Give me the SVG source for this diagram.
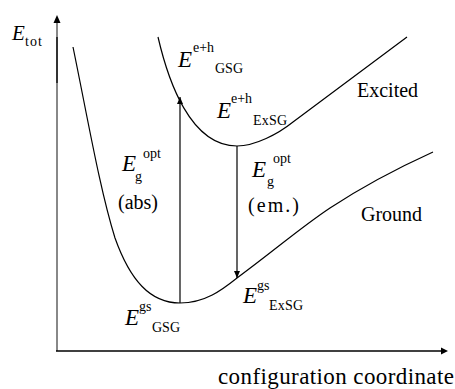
<svg xmlns="http://www.w3.org/2000/svg" width="455" height="389" viewBox="0 0 455 389">
<defs>
<marker id="ah" markerWidth="8" markerHeight="8" refX="7" refY="4" orient="auto" markerUnits="userSpaceOnUse">
<path d="M0,1 L7,4 L0,7 Z" fill="#000"/>
</marker>
</defs>
<g id="axes">
<line x1="57" y1="351" x2="57" y2="22" stroke="#888" stroke-width="2"/>
<line x1="57" y1="37" x2="57" y2="83" stroke="#333" stroke-width="2"/>
<path d="M53.5,23 L57,15 L60.5,23 Z" fill="#000"/>
<line x1="56" y1="351" x2="442" y2="351" stroke="#000" stroke-width="1.5"/>
<path d="M441,347.5 L448,351 L441,354.5 Z" fill="#000"/>
<text font-family="Times New Roman" font-style="italic" font-size="21" x="12" y="40">E</text>
<text font-family="Times New Roman" font-size="14" x="25" y="46" textLength="17">tot</text>
<text font-family="Times New Roman" font-size="23" x="218" y="384" textLength="236">configuration coordinate</text>
</g>
<g id="ground">
<path fill="none" stroke="#000" stroke-width="1.2" d="M73,47 C88,120 100,190 115,238 C130,280 150,303 180,303 C205,303 222,290 237,278 C275,250 300,228 330,208 C365,185 400,167 433,152"/>
<text font-family="Times New Roman" font-size="20" x="361" y="221">Ground</text>
<text font-family="Times New Roman" font-style="italic" font-size="23" x="125" y="325">E</text>
<text font-family="Times New Roman" font-size="14" x="139" y="311">gs</text>
<text font-family="Times New Roman" font-size="14" x="152" y="332" textLength="28">GSG</text>
<text font-family="Times New Roman" font-style="italic" font-size="23" x="243" y="303">E</text>
<text font-family="Times New Roman" font-size="14" x="257" y="290">gs</text>
<text font-family="Times New Roman" font-size="14" x="269" y="310" textLength="34">ExSG</text>
</g>
<g id="excited">
<path fill="none" stroke="#000" stroke-width="1.2" d="M158,37 C168,80 190,146 237,146 C255,146 278,134 293,122 L407,37"/>
<text font-family="Times New Roman" font-size="20" x="357" y="97">Excited</text>
<text font-family="Times New Roman" font-style="italic" font-size="23" x="178" y="67">E</text>
<text font-family="Times New Roman" font-size="14" x="193" y="52">e+h</text>
<text font-family="Times New Roman" font-size="14" x="215" y="73" textLength="28">GSG</text>
<text font-family="Times New Roman" font-style="italic" font-size="23" x="217" y="118">E</text>
<text font-family="Times New Roman" font-size="14" x="231" y="103">e+h</text>
<text font-family="Times New Roman" font-size="14" x="253" y="125" textLength="34">ExSG</text>
</g>
<g id="connectors">
<line stroke="#000" stroke-width="1.2" x1="180" y1="303" x2="180" y2="97" marker-end="url(#ah)"/>
<line stroke="#000" stroke-width="1.2" x1="237" y1="146" x2="237" y2="278" marker-end="url(#ah)"/>
<text font-family="Times New Roman" font-style="italic" font-size="23" x="122" y="171">E</text>
<text font-family="Times New Roman" font-size="14" x="135" y="181">g</text>
<text font-family="Times New Roman" font-size="14" x="143" y="158">opt</text>
<text font-family="Times New Roman" font-size="20" x="118" y="209">(abs)</text>
<text font-family="Times New Roman" font-style="italic" font-size="23" x="252" y="177">E</text>
<text font-family="Times New Roman" font-size="14" x="267" y="186">g</text>
<text font-family="Times New Roman" font-size="14" x="273" y="163">opt</text>
<text font-family="Times New Roman" font-size="20" x="248" y="212" textLength="51">(em.)</text>
</g>
</svg>
